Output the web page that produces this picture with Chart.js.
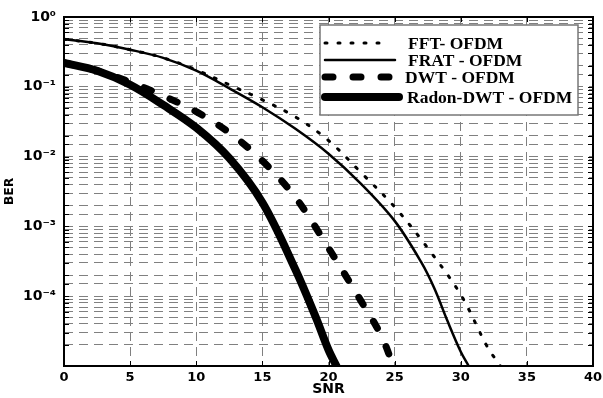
<!DOCTYPE html>
<html>
<head>
<meta charset="utf-8">
<script src="https://cdn.jsdelivr.net/npm/chart.js@4.4.1/dist/chart.umd.min.js"></script>
<style>
html, body { margin: 0; padding: 0; background: #fff; }
#wrap { width: 603px; height: 398px; }
</style>
</head>
<body>
<div id="wrap"><canvas id="berChart"></canvas></div>
<script>
// values (SNR in dB, BER)
const snrFFT = [0, 2.5, 5, 7.5, 10, 12.5, 15, 17.5, 20, 22.5, 25, 27.5, 30, 32, 33];
const berFFT = [0.48, 0.42, 0.34, 0.26, 0.175, 0.107, 0.065, 0.037, 0.017, 5.8e-3, 1.9e-3, 4.9e-4, 1.05e-4, 1.9e-5, 1e-5];

const snrFRAT = [0, 2.5, 5, 7.5, 10, 12.5, 15, 17.5, 20, 22.5, 25, 27, 28, 29, 30, 30.6];
const berFRAT = [0.48, 0.42, 0.34, 0.26, 0.17, 0.095, 0.051, 0.025, 0.011, 4e-3, 1.2e-3, 3.1e-4, 1.3e-4, 4.4e-5, 1.6e-5, 1e-5];

const snrDWT = [0, 2.5, 5, 7.5, 10, 12.5, 15, 17.5, 20, 22.5, 24, 24.9];
const berDWT = [0.22, 0.17, 0.117, 0.074, 0.044, 0.022, 8.7e-3, 2.6e-3, 4.9e-4, 8.3e-5, 2.7e-5, 1e-5];

const snrRadon = [0, 2.5, 5, 7.5, 10, 12.5, 15, 17.5, 19, 20, 20.6];
const berRadon = [0.22, 0.17, 0.107, 0.055, 0.026, 9.5e-3, 2.2e-3, 2.4e-4, 5.2e-5, 1.7e-5, 1e-5];

const seriesLabels = ["FFT- OFDM", "FRAT - OFDM", "DWT - OFDM", "Radon-DWT - OFDM"];
const xTickStep = 5;
const xMin = 0, xMax = 40;
const yMin = 1e-5, yMax = 1;
const labelledPowers = [0, -1, -2, -3, -4];

const sup = {"0": "\u2070", "1": "\u00b9", "2": "\u00b2", "3": "\u00b3", "4": "\u2074", "5": "\u2075", "-": "\u207b"};
function powLabel(p) {
    return "10" + String(p).split("").map(c => sup[c]).join("");
}

function pts(xs, ys) {
    return xs.map((x, i) => ({x: x, y: ys[i]}));
}

const tickFont = {family: "DejaVu Sans", weight: "bold", size: 13};

// box round the plot, inward tick marks, legend inside the plot
const framePlugin = {
    id: "frame",
    afterDraw(chart) {
        const {ctx, chartArea: a, scales} = chart;
        ctx.save();
        ctx.strokeStyle = "#000";
        ctx.lineWidth = 1;
        ctx.beginPath();
        scales.y.ticks.forEach(t => {
            const y = Math.round(scales.y.getPixelForValue(t.value)) + 0.5;
            ctx.moveTo(a.left, y); ctx.lineTo(a.left + 5, y);
            ctx.moveTo(a.right, y); ctx.lineTo(a.right - 5, y);
        });
        scales.x.ticks.forEach(t => {
            const x = Math.round(scales.x.getPixelForValue(t.value)) + 0.5;
            ctx.moveTo(x, a.bottom); ctx.lineTo(x, a.bottom - 5);
            ctx.moveTo(x, a.top); ctx.lineTo(x, a.top + 5);
        });
        ctx.stroke();
        ctx.lineWidth = 2;
        ctx.strokeRect(a.left, a.top, a.right - a.left, a.bottom - a.top);

        // legend
        const w = 258, h = 90;
        const bx = a.right - 15 - w, by = a.top + 8;
        ctx.fillStyle = "#fff";
        ctx.fillRect(bx, by, w, h);
        ctx.strokeStyle = "#777";
        ctx.lineWidth = 1.5;
        ctx.strokeRect(bx, by, w, h);
        const rows = [18, 35, 52, 72];
        const lens = [58, 70, 67, 74];
        const textX = [88, 88, 85, 87];
        ctx.font = "bold 17.5px 'Liberation Serif', 'Times New Roman', serif";
        ctx.textBaseline = "middle";
        chart.data.datasets.forEach((ds, i) => {
            const y = by + rows[i];
            ctx.save();
            ctx.strokeStyle = "#000";
            ctx.lineWidth = ds.borderWidth;
            ctx.lineCap = "round";
            ctx.setLineDash(ds.borderDash || []);
            ctx.beginPath();
            ctx.moveTo(bx + 5, y);
            ctx.lineTo(bx + 5 + lens[i], y);
            ctx.stroke();
            ctx.restore();
            ctx.fillStyle = "#000";
            ctx.fillText(ds.label, bx + textX[i], y + 1);
        });
        ctx.restore();
    }
};

const common = {
    borderColor: "#000",
    backgroundColor: "#000",
    pointRadius: 0,
    fill: false,
    tension: 0.35,
    borderCapStyle: "round",
    borderJoinStyle: "round"
};

new Chart(document.getElementById("berChart"), {
    type: "line",
    data: {
        datasets: [
            Object.assign({label: seriesLabels[0], data: pts(snrFFT, berFFT), borderWidth: 3, borderDash: [2, 11]}, common),
            Object.assign({label: seriesLabels[1], data: pts(snrFRAT, berFRAT), borderWidth: 2.5}, common),
            Object.assign({label: seriesLabels[2], data: pts(snrDWT, berDWT), borderWidth: 7, borderDash: [8, 20]}, common),
            Object.assign({label: seriesLabels[3], data: pts(snrRadon, berRadon), borderWidth: 8}, common)
        ]
    },
    options: {
        responsive: true,
        maintainAspectRatio: false,
        animation: false,
        layout: {padding: {top: 17, right: 0, left: 0, bottom: 0}},
        plugins: {legend: {display: false}, tooltip: {enabled: false}},
        scales: {
            x: {
                type: "linear",
                min: xMin,
                max: xMax,
                ticks: {stepSize: xTickStep, font: tickFont, color: "#000", padding: 4, maxRotation: 0},
                grid: {color: "#808080", lineWidth: 1, drawTicks: false},
                border: {display: false, dash: [9, 6]},
                title: {display: true, text: "SNR", font: {family: "DejaVu Sans", weight: "bold", size: 14}, color: "#000", padding: {top: 0, bottom: 0}},
                afterFit(scale) { scale.height = 32; scale.paddingRight = 10; }
            },
            y: {
                type: "logarithmic",
                min: yMin,
                max: yMax,
                ticks: {
                    autoSkip: false,
                    font: {family: "DejaVu Sans", weight: "bold", size: 14},
                    color: "#000",
                    padding: 8,
                    callback(v) {
                        const e = Math.round(Math.log10(v));
                        if (Math.abs(Math.log10(v) - e) < 1e-6 && labelledPowers.includes(e)) return powLabel(e);
                        return "";
                    }
                },
                grid: {color: "#808080", lineWidth: 1, drawTicks: false},
                border: {display: false, dash: [9, 6]},
                title: {display: true, text: "BER", font: {family: "DejaVu Sans", weight: "bold", size: 12.5}, color: "#000", padding: {top: 2, bottom: 0}},
                afterFit(scale) { scale.width = 64; }
            }
        }
    },
    plugins: [framePlugin]
});
</script>
</body>
</html>
